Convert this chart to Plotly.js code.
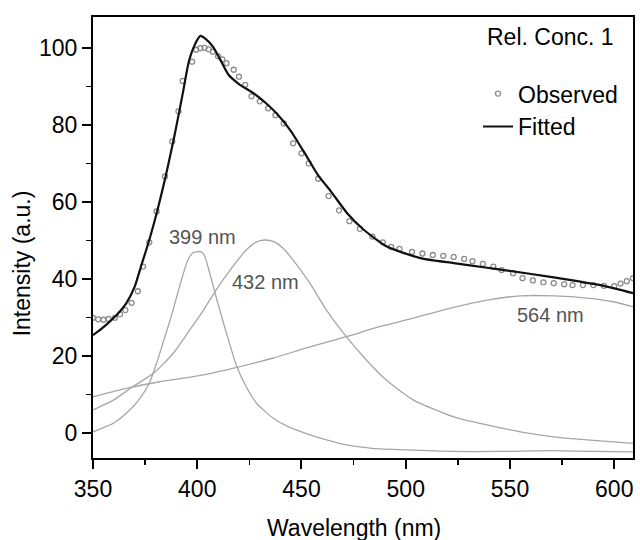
<!DOCTYPE html>
<html>
<head>
<meta charset="utf-8">
<script src="https://cdn.plot.ly/plotly-3.0.1.min.js"></script>
<style>html,body{margin:0;padding:0;background:#fff;}#chart{width:640px;height:540px;}</style>
</head>
<body>
<div id="chart"></div>
<script>
// Observed spectrum (points)
var obsX = [350, 352.5, 355, 357.5, 360.5, 363, 365.5, 368.5, 371.5, 374, 377, 380.5, 384.5, 388, 391, 393, 397.5, 399.5, 401.5, 403.5, 405.5, 407.5, 410, 412, 414, 417.5, 420, 423, 426, 430, 434, 437.5, 441.5, 446, 450, 453.5, 458, 463, 468, 473, 478, 484, 489, 493, 497, 503, 508, 513, 518, 523, 528, 532, 537, 542, 546, 551.5, 556, 561, 566, 571, 576, 580, 585, 590, 595, 600, 603, 606, 609];
var obsY = [29.9, 29.5, 29.4, 29.6, 29.9, 30.8, 31.9, 33.8, 36.8, 43.2, 49.5, 57.5, 66.6, 75.7, 83.5, 91.4, 96.4, 99.5, 99.9, 100, 99.6, 99, 97.8, 97, 96, 94.3, 92.5, 90.4, 87.4, 86.1, 84.3, 82.5, 80.4, 75.2, 72.6, 70, 66, 61.5, 57.8, 55, 53, 51, 49.5, 48.3, 47.8, 47, 46.6, 46.2, 46, 45.7, 45.2, 44.6, 43.9, 43.2, 42.3, 41.5, 40.2, 39.6, 39.1, 38.9, 38.6, 38.4, 38.4, 38.4, 38.2, 38.1, 38.8, 39.4, 40.2];

// Fitted curve
var fitX = [350, 354, 358, 362, 366, 370, 373, 377, 381, 385, 389, 393, 396, 399, 401.5, 404, 407.5, 411, 415, 420, 427, 433, 438, 444.5, 452.5, 458, 464, 472, 480, 491, 507, 523, 539, 547, 571, 595, 609];
var fitY = [25.4, 27, 28.9, 31, 33.7, 38, 43.2, 50.1, 58, 67, 77, 88, 96.5, 101, 103.1, 102.3, 100.3, 97, 93, 90.6, 88.2, 85.6, 83, 78.7, 71.8, 66.9, 62.8, 57, 52.7, 48.4, 45.4, 44.1, 42.9, 42.3, 40.4, 38.2, 36.3];

// Component 399 nm
var c399X = [350, 355, 360, 366, 372, 377, 380.5, 383.5, 387.5, 391.5, 395.5, 398, 400, 402, 403.5, 406, 409, 414, 419, 423.5, 428.5, 436.5, 444, 452, 460, 468, 476, 484, 500, 523, 545, 570, 590, 609];
var c399Y = [0.3, 1.4, 2.6, 5.1, 8.6, 12.9, 18.1, 23.3, 30.2, 38, 44.9, 46.8, 47.1, 47, 46, 41.5, 35.4, 25.9, 17.2, 12, 7.7, 3.8, 1.5, -0.1, -1.5, -2.7, -3.5, -4, -4.4, -4.8, -4.8, -4.6, -4.8, -4.9];

// Component 432 nm
var c432X = [350, 360, 369, 379, 388.5, 396.5, 403, 409, 417, 423.5, 428, 432.5, 437, 441, 446, 454, 462, 471.5, 481, 490.5, 503.5, 523, 539, 555, 571, 587, 609];
var c432Y = [6, 8.6, 12, 15.5, 20.7, 26.8, 31.9, 37.1, 43.2, 47.5, 49.5, 50.1, 49.6, 48, 44.9, 38.9, 31.9, 25, 19, 13.8, 8.6, 4.2, 2.1, 0.3, -1, -1.8, -2.7];

// Component 564 nm
var c564X = [350, 366, 382, 398, 414, 436, 452, 471.5, 487.5, 503.5, 523, 539, 555, 571, 587, 600, 609];
var c564Y = [9.4, 11.6, 13.3, 14.6, 16.4, 19.4, 22, 25, 27.6, 29.8, 32.6, 34.5, 35.6, 35.6, 35, 34, 32.8];

var xTicks = [350, 400, 450, 500, 550, 600];
var yTicks = [0, 20, 40, 60, 80, 100];
var labels = ["399 nm", "432 nm", "564 nm"];
var labelX = [402.3, 432.5, 569.5];
var labelY = [50.9, 39.3, 30.6];

var FONT = "Liberation Sans, Arial, sans-serif";
var compLine = {color: "#a6a6a6", width: 1.3};

var traces = [
  {x: c399X, y: c399Y, mode: "lines", line: compLine, line_shape: "spline", showlegend: false, hoverinfo: "skip"},
  {x: c432X, y: c432Y, mode: "lines", line: compLine, showlegend: false, hoverinfo: "skip"},
  {x: c564X, y: c564Y, mode: "lines", line: compLine, showlegend: false, hoverinfo: "skip"},
  {x: obsX, y: obsY, mode: "markers", name: "Observed",
   marker: {symbol: "circle-open", size: 5, color: "#8a8a8a", line: {width: 1.3, color: "#8a8a8a"}}},
  {x: fitX, y: fitY, mode: "lines", name: "Fitted", line: {color: "#111", width: 2.2, shape: "spline", smoothing: 0.6}}
];
traces[0].line = {color: "#a6a6a6", width: 1.3, shape: "spline", smoothing: 0.6};
traces[1].line = {color: "#a6a6a6", width: 1.3, shape: "spline", smoothing: 0.6};
traces[2].line = {color: "#a6a6a6", width: 1.3, shape: "spline", smoothing: 0.6};

var annotations = [];
for (var i = 0; i < labels.length; i++) {
  annotations.push({x: labelX[i], y: labelY[i], xref: "x", yref: "y", text: labels[i], showarrow: false,
    font: {family: FONT, size: 20, color: "#555"}, xanchor: "center", yanchor: "middle"});
}
annotations.push({x: 0.848, y: 0.955, xref: "paper", yref: "paper", text: "Rel. Conc. 1", showarrow: false,
  font: {family: FONT, size: 23, color: "#000"}, xanchor: "center", yanchor: "middle"});
annotations.push({x: 0.483, y: -0.159, xref: "paper", yref: "paper", text: "Wavelength (nm)", showarrow: false,
  font: {family: FONT, size: 23, color: "#000"}, xanchor: "center", yanchor: "middle"});
annotations.push({x: -0.131, y: 0.442, xref: "paper", yref: "paper", text: "Intensity (a.u.)", showarrow: false, textangle: -90,
  font: {family: FONT, size: 23, color: "#000"}, xanchor: "center", yanchor: "middle"});

var layout = {
  width: 640, height: 540,
  margin: {l: 93, r: 7, t: 17, b: 82, pad: 0},
  paper_bgcolor: "#fff", plot_bgcolor: "#fff",
  font: {family: FONT, size: 23, color: "#000"},
  showlegend: true,
  legend: {x: 0.713, y: 0.875, xanchor: "left", yanchor: "top", bgcolor: "rgba(0,0,0,0)",
    font: {family: FONT, size: 23, color: "#000"}, tracegroupgap: 0, itemwidth: 30},
  xaxis: {range: [350, 609], tickvals: xTicks, ticktext: xTicks.map(String), ticks: "outside", ticklen: 9, tickwidth: 2,
    tickcolor: "#000", showline: true, linecolor: "#000", linewidth: 2, mirror: true, showgrid: false, zeroline: false,
    minor: {ticks: "outside", ticklen: 5, tickwidth: 1.5, tickcolor: "#000", dtick: 25, tick0: 350, showgrid: false},
    tickfont: {family: FONT, size: 23, color: "#000"}},
  yaxis: {range: [-6.5, 108], tickvals: yTicks, ticktext: yTicks.map(String), ticks: "outside", ticklen: 9, tickwidth: 2,
    tickcolor: "#000", showline: true, linecolor: "#000", linewidth: 2, mirror: true, showgrid: false, zeroline: false,
    minor: {ticks: "outside", ticklen: 5, tickwidth: 1.5, tickcolor: "#000", dtick: 10, tick0: 0, showgrid: false},
    tickfont: {family: FONT, size: 23, color: "#000"}},
  annotations: annotations
};

Plotly.newPlot("chart", traces, layout, {staticPlot: true, displayModeBar: false});
</script>
</body>
</html>
